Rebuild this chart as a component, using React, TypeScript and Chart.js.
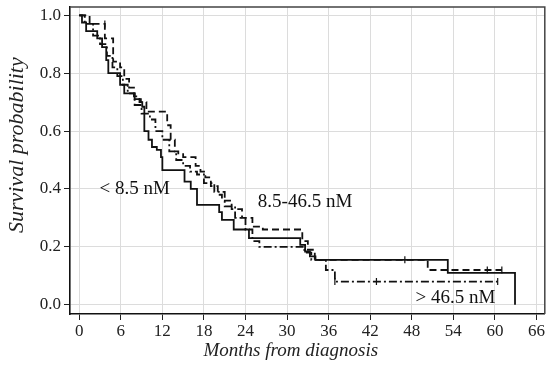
import React, { useEffect, useRef } from 'react';
import { Chart, registerables } from 'chart.js';

Chart.register(...registerables);

const xTicks = [0, 6, 12, 18, 24, 30, 36, 42, 48, 54, 60, 66];
const yTicks = [0, 0.2, 0.4, 0.6, 0.8, 1.0];

// < 8.5 nM (solid)
const lowMonths = [0, 0.4, 1.0, 2.6, 3.3, 3.9, 4.2, 5.9, 6.5, 8.0, 8.9, 9.1, 9.4, 10.0, 10.5, 11.2, 11.8, 12.0, 15.2, 16.1, 17.0, 20.2, 20.6, 22.3, 24.5, 31.9, 32.6, 33.3, 34.1, 53.2, 62.9];
const lowSurv = [1.0, 0.975, 0.945, 0.92, 0.89, 0.845, 0.80, 0.76, 0.73, 0.71, 0.70, 0.684, 0.60, 0.57, 0.545, 0.535, 0.51, 0.465, 0.425, 0.40, 0.345, 0.32, 0.293, 0.26, 0.23, 0.207, 0.184, 0.167, 0.155, 0.11, 0.0];

// 8.5-46.5 nM (dashed)
const midMonths = [0, 1.5, 3.7, 4.9, 5.9, 6.5, 7.2, 7.9, 8.7, 9.7, 12.7, 13.2, 13.8, 14.3, 15.0, 16.8, 17.5, 18.2, 19.0, 20.0, 20.6, 22.0, 23.5, 25.0, 26.5, 32.2, 33.0, 34.0, 50.3, 61.0];
const midSurv = [1.0, 0.97, 0.92, 0.84, 0.82, 0.78, 0.75, 0.72, 0.70, 0.667, 0.62, 0.57, 0.53, 0.52, 0.51, 0.48, 0.46, 0.44, 0.41, 0.38, 0.36, 0.33, 0.30, 0.27, 0.26, 0.22, 0.19, 0.155, 0.12, 0.12];

// > 46.5 nM (dash-dot)
const highMonths = [0, 0.8, 2.0, 3.0, 4.0, 4.8, 5.5, 6.3, 7.0, 8.0, 9.0, 10.2, 11.0, 12.0, 13.0, 14.0, 15.0, 16.0, 17.0, 18.0, 19.5, 21.0, 22.5, 24.0, 25.0, 26.0, 32.5, 33.5, 35.6, 36.9, 60.4];
const highSurv = [1.0, 0.97, 0.93, 0.90, 0.86, 0.82, 0.79, 0.76, 0.73, 0.69, 0.66, 0.64, 0.60, 0.57, 0.53, 0.50, 0.48, 0.46, 0.45, 0.42, 0.39, 0.34, 0.30, 0.26, 0.22, 0.20, 0.18, 0.155, 0.12, 0.08, 0.08];

// censor marks
const lowCensorMonths = [47.0];
const lowCensorSurv = [0.155];
const midCensorMonths = [3.7, 58.9, 61.0];
const midCensorSurv = [0.97, 0.12, 0.12];
const highCensorMonths = [36.9, 42.9, 60.4];
const highCensorSurv = [0.08, 0.08, 0.08];

const groupLabels = ['< 8.5 nM', '8.5-46.5 nM', '> 46.5 nM'];
const labelMonths = [8.0, 32.6, 54.3];
const labelSurv = [0.40, 0.355, 0.024];

const xTitle = 'Months from diagnosis';
const yTitle = 'Survival probability';

const FONT = "'Liberation Serif', 'DejaVu Serif', serif";

function pts(xs: number[], ys: number[]) {
  return xs.map((x, i) => ({ x, y: ys[i] }));
}

const frameAndLabels = {
  id: 'frameAndLabels',
  afterDatasetsDraw(chart: any) {
    const { ctx, chartArea, scales } = chart;
    ctx.save();
    ctx.fillStyle = '#111';
    ctx.font = `19px ${FONT}`;
    ctx.textAlign = 'center';
    ctx.textBaseline = 'middle';
    groupLabels.forEach((t, i) => {
      ctx.fillText(t, scales.x.getPixelForValue(labelMonths[i]), scales.y.getPixelForValue(labelSurv[i]));
    });
    ctx.strokeStyle = '#444';
    ctx.lineWidth = 1.5;
    ctx.beginPath();
    ctx.moveTo(chartArea.left, chartArea.top);
    ctx.lineTo(chartArea.right, chartArea.top);
    ctx.lineTo(chartArea.right, chartArea.bottom);
    ctx.stroke();
    // axis titles
    ctx.fillStyle = '#222';
    ctx.textBaseline = 'alphabetic';
    ctx.font = `italic 19px ${FONT}`;
    ctx.fillText(xTitle, chartArea.left + (chartArea.right - chartArea.left) * 0.465, chart.height - 10);
    ctx.font = `italic 22px ${FONT}`;
    ctx.translate(23, chartArea.top + (chartArea.bottom - chartArea.top) * 0.45);
    ctx.rotate(-Math.PI / 2);
    ctx.fillText(yTitle, 0, 0);
    ctx.restore();
  },
};

export default function App() {
  const ref = useRef<HTMLCanvasElement | null>(null);
  useEffect(() => {
    if (!ref.current) return;
    const lineDs = (label: string, xs: number[], ys: number[], dash: number[]) => ({
      type: 'line' as const,
      label,
      data: pts(xs, ys),
      stepped: 'before' as const,
      borderColor: '#111',
      borderWidth: 1.8,
      borderDash: dash,
      pointRadius: 0,
      fill: false,
    });
    const censorDs = (xs: number[], ys: number[]) => ({
      type: 'scatter' as const,
      data: pts(xs, ys),
      pointStyle: 'line' as const,
      rotation: 90,
      pointRadius: 3.5,
      borderColor: '#111',
      borderWidth: 1.2,
      backgroundColor: '#111',
      showLine: false,
    });
    const chart = new Chart(ref.current, {
      type: 'line',
      data: {
        datasets: [
          lineDs(groupLabels[0], lowMonths, lowSurv, []),
          lineDs(groupLabels[1], midMonths, midSurv, [7, 4]),
          lineDs(groupLabels[2], highMonths, highSurv, [8, 3, 2, 3]),
          censorDs(lowCensorMonths, lowCensorSurv),
          censorDs(midCensorMonths, midCensorSurv),
          censorDs(highCensorMonths, highCensorSurv),
        ] as any,
      },
      options: {
        responsive: false,
        animation: false,
        layout: { padding: { left: 0, top: 7, right: 0, bottom: 0 } },
        plugins: { legend: { display: false }, tooltip: { enabled: false } },
        scales: {
          x: {
            type: 'linear',
            min: -1.33,
            max: 67.2,
            afterBuildTicks: (s: any) => { s.ticks = xTicks.map((v) => ({ value: v })); },
            afterFit: (s: any) => { s.height = 52; s.paddingLeft = 0; s.paddingRight = 0; },
            grid: { color: '#dcdcdc', lineWidth: 1, tickLength: 6, tickColor: '#222' },
            border: { display: true, color: '#111', width: 1.6 },
            ticks: { color: '#222', font: { family: FONT, size: 17 }, padding: 1, maxRotation: 0, autoSkip: false },
            title: { display: false },
          },
          y: {
            type: 'linear',
            min: -0.032,
            max: 1.0286,
            afterBuildTicks: (s: any) => { s.ticks = yTicks.map((v) => ({ value: v })); },
            afterFit: (s: any) => { s.width = 70; s.paddingTop = 0; s.paddingBottom = 0; },
            grid: { color: '#dcdcdc', lineWidth: 1, tickLength: 6, tickColor: '#222' },
            border: { display: true, color: '#111', width: 1.6 },
            ticks: { color: '#222', font: { family: FONT, size: 17 }, padding: 3, callback: (v: any) => Number(v).toFixed(1) },
            title: { display: false },
          },
        },
      },
      plugins: [frameAndLabels],
    });
    return () => chart.destroy();
  }, []);
  return (
    <div style={{ position: 'fixed', left: 0, top: 0, width: 550, height: 366, background: '#fff' }}>
      <canvas ref={ref} width={550} height={366} style={{ display: 'block' }} />
    </div>
  );
}
